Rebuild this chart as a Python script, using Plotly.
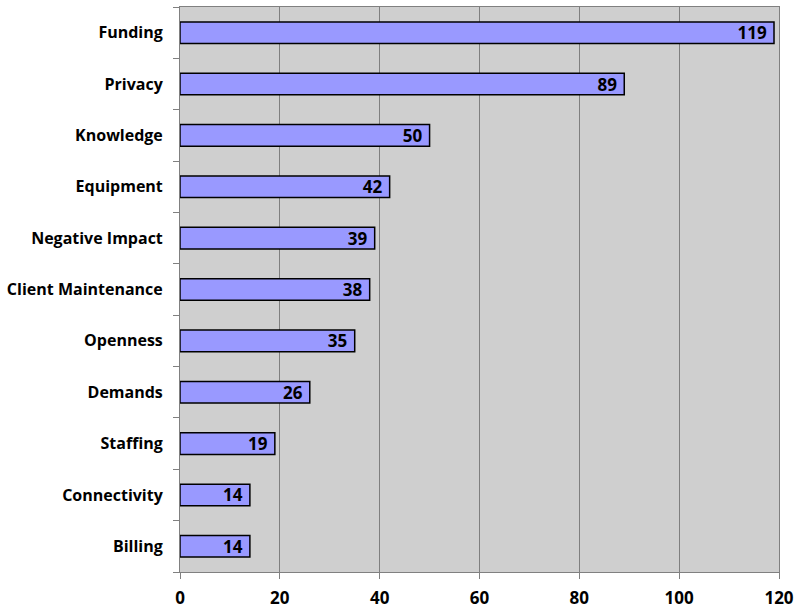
import plotly.graph_objects as go

categories = ["Funding", "Privacy", "Knowledge", "Equipment", "Negative Impact",
              "Client Maintenance", "Openness", "Demands", "Staffing",
              "Connectivity", "Billing"]
values = [119, 89, 50, 42, 39, 38, 35, 26, 19, 14, 14]
x_ticks = [0, 20, 40, 60, 80, 100, 120]

font_family = "Open Sans, Noto Sans, sans-serif"

fig = go.Figure(go.Bar(
    x=values[::-1],
    y=categories[::-1],
    orientation="h",
    width=0.42,
    marker=dict(color="#9999FF", line=dict(color="#000000", width=1.5)),
    text=[str(v) + "\u00a0" for v in values[::-1]],
    textposition="inside",
    insidetextanchor="end",
    constraintext="none",
    textfont=dict(family=font_family, size=17, color="#000000", weight="bold"),
    textangle=0,
    cliponaxis=False,
))

fig.update_layout(
    width=800, height=611,
    margin=dict(l=180, r=21, t=7, b=39, autoexpand=False),
    paper_bgcolor="white",
    plot_bgcolor="#CFCFCF",
    showlegend=False,
    font=dict(family=font_family, size=16, color="#000000"),
)
fig.update_xaxes(
    range=[0, 120],
    tickvals=x_ticks,
    ticktext=[str(t) for t in x_ticks],
    showgrid=True, gridcolor="#7F7F7F", gridwidth=1,
    ticks="outside", ticklen=6, tickcolor="#808080",
    showline=True, linecolor="#808080", linewidth=1, mirror=True,
    tickfont=dict(family=font_family, size=17, weight="bold"),
    ticklabelstandoff=5,
    zeroline=False,
    automargin=False,
    fixedrange=True,
)
fig.update_yaxes(
    type="category",
    tickson="boundaries",
    ticks="outside", ticklen=6, tickcolor="#808080",
    showgrid=False,
    showline=True, linecolor="#808080", linewidth=1, mirror=True,
    tickfont=dict(family=font_family, size=16, weight="bold"),
    ticklabelstandoff=13,
    automargin=False,
    fixedrange=True,
)

fig.write_html("out.html", config={"displayModeBar": False})

with open("out.html", "r", encoding="utf-8") as f:
    html = f.read()
html = html.replace("<body>", '<body style="margin:0;padding:0;overflow:hidden">', 1)
with open("out.html", "w", encoding="utf-8") as f:
    f.write(html)
